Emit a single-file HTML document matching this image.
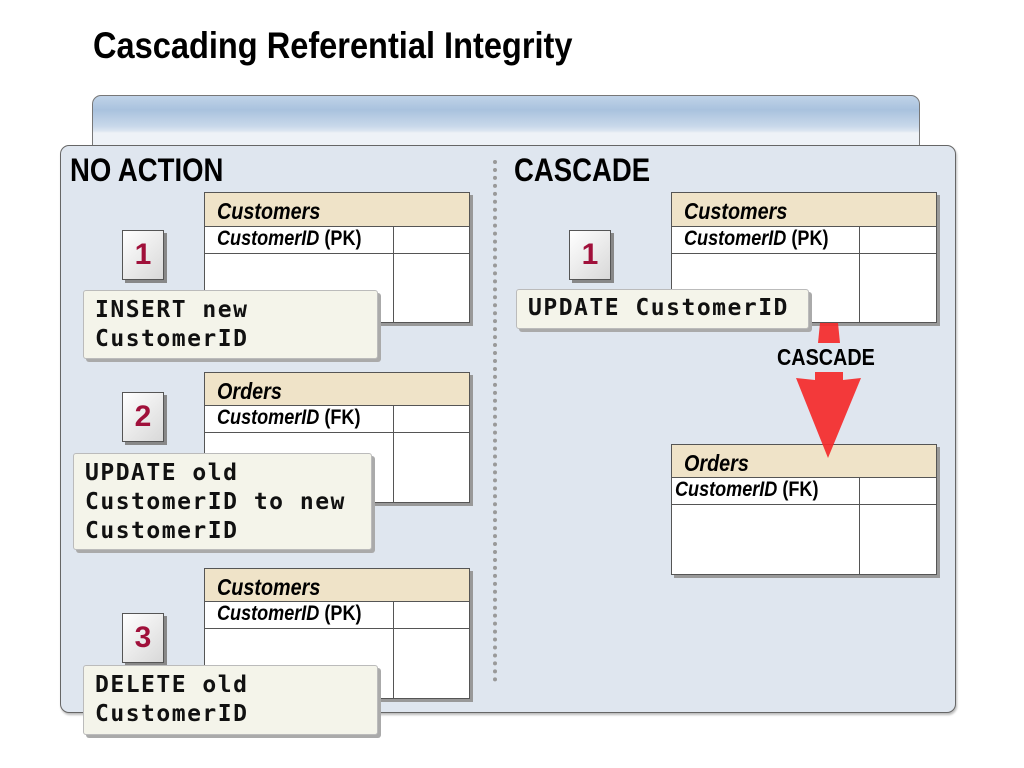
<!DOCTYPE html>
<html><head><style>
body{margin:0;width:1024px;height:768px;background:#fff;position:relative;overflow:hidden;font-family:"Liberation Sans",sans-serif}
.a{position:absolute}
.nar{display:inline-block;transform:scaleX(0.86);transform-origin:left top;white-space:nowrap}
.tbl{position:absolute;background:#fff;border:1px solid #555;box-shadow:3px 3px 0 #999;box-sizing:border-box}
.tbl .h{position:absolute;left:0;right:0;top:0;background:#efe3c8;border-bottom:1px solid #555;font:italic bold 23px "Liberation Sans",sans-serif;padding-left:12px;box-sizing:border-box}
.tbl .r{position:absolute;left:0;right:0;border-bottom:1px solid #555}
.tbl .r span{font:italic bold 21px "Liberation Sans",sans-serif}
.tbl .v{position:absolute;width:1px;background:#555;bottom:0}
.badge{position:absolute;width:42px;height:50px;background:linear-gradient(135deg,#fff,#d8d8d8);border:1px solid #555;box-shadow:3px 3px 0 #888;box-sizing:border-box;text-align:center;font:bold 30px "Liberation Sans",sans-serif;color:#a0103a;line-height:48px}
.call{position:absolute;background:#f4f4ea;border:1px solid #bbb;border-radius:3px;box-shadow:3px 3px 0 #aaa;box-sizing:border-box;font:bold 23px "DejaVu Sans Mono",monospace;letter-spacing:1.5px;line-height:29px;padding:5px 0 0 11px;color:#111;white-space:pre}
</style></head><body>
<div class="a" style="left:93px;top:25px;font:bold 37px 'Liberation Sans',sans-serif"><span class="nar" style="transform:scaleX(0.88)">Cascading Referential Integrity</span></div>
<div class="a" style="left:92px;top:95px;width:828px;height:60px;border:1px solid #777;border-radius:9px;background:linear-gradient(#c0d3e8 0px,#a9c2de 14px,#c8d8ea 30px,#dce6f1 35px,#eef2f7 37px);box-sizing:border-box"></div>
<div class="a" style="left:60px;top:145px;width:896px;height:568px;border:1px solid #666;border-radius:9px;background:#dfe6ef;box-sizing:border-box;box-shadow:1px 2px 2px #bbb"></div>
<div class="a" style="left:70px;top:152px;font:bold 32px 'Liberation Sans',sans-serif"><span class="nar">NO ACTION</span></div>
<div class="a" style="left:514px;top:152px;font:bold 32px 'Liberation Sans',sans-serif"><span class="nar">CASCADE</span></div>
<div class="a" style="left:493px;top:160px;width:0;height:522px;border-left:4px dotted #999"></div>

<div class="tbl" style="left:204px;top:192px;width:266px;height:131px"><div class="h" style="height:34px;line-height:36px"><span class="nar">Customers</span></div><div class="r" style="top:34px;height:26px;padding-left:12px;line-height:24px"><span class="nar">CustomerID <span style="font-style:normal">(PK)</span></span></div><div class="v" style="left:188px;top:34px"></div></div>
<div class="tbl" style="left:204px;top:372px;width:266px;height:131px"><div class="h" style="height:33px;line-height:36px"><span class="nar">Orders</span></div><div class="r" style="top:33px;height:26px;padding-left:12px;line-height:24px"><span class="nar">CustomerID <span style="font-style:normal">(FK)</span></span></div><div class="v" style="left:188px;top:33px"></div></div>
<div class="tbl" style="left:204px;top:568px;width:266px;height:131px"><div class="h" style="height:33px;line-height:36px"><span class="nar">Customers</span></div><div class="r" style="top:33px;height:26px;padding-left:12px;line-height:24px"><span class="nar">CustomerID <span style="font-style:normal">(PK)</span></span></div><div class="v" style="left:188px;top:33px"></div></div>
<div class="tbl" style="left:671px;top:192px;width:266px;height:131px"><div class="h" style="height:34px;line-height:36px"><span class="nar">Customers</span></div><div class="r" style="top:34px;height:26px;padding-left:12px;line-height:24px"><span class="nar">CustomerID <span style="font-style:normal">(PK)</span></span></div><div class="v" style="left:187px;top:34px"></div></div>
<div class="tbl" style="left:671px;top:444px;width:266px;height:131px"><div class="h" style="height:33px;line-height:36px"><span class="nar">Orders</span></div><div class="r" style="top:33px;height:26px;padding-left:3px;line-height:24px"><span class="nar">CustomerID <span style="font-style:normal">(FK)</span></span></div><div class="v" style="left:187px;top:33px"></div></div>

<svg class="a" style="left:0;top:0" width="1024" height="768"><g fill="#f42a2a" fill-opacity="0.92"><polygon points="820,323 838,323 840,343 818,343"/><polygon points="815,372 843,372 843,380 861,378 828,458 796,378 815,380"/></g></svg>
<div class="a" style="left:777px;top:344px;font:bold 23px 'Liberation Sans',sans-serif"><span class="nar">CASCADE</span></div>

<div class="badge" style="left:122px;top:230px">1</div>
<div class="badge" style="left:122px;top:392px">2</div>
<div class="badge" style="left:122px;top:613px">3</div>
<div class="badge" style="left:569px;top:230px">1</div>

<div class="call" style="left:83px;top:290px;width:295px;height:69px">INSERT new
CustomerID</div>
<div class="call" style="left:73px;top:453px;width:299px;height:97px">UPDATE old
CustomerID to new
CustomerID</div>
<div class="call" style="left:83px;top:665px;width:295px;height:70px">DELETE old
CustomerID</div>
<div class="call" style="left:516px;top:289px;width:293px;height:40px;padding-top:4px">UPDATE CustomerID</div>
</body></html>
